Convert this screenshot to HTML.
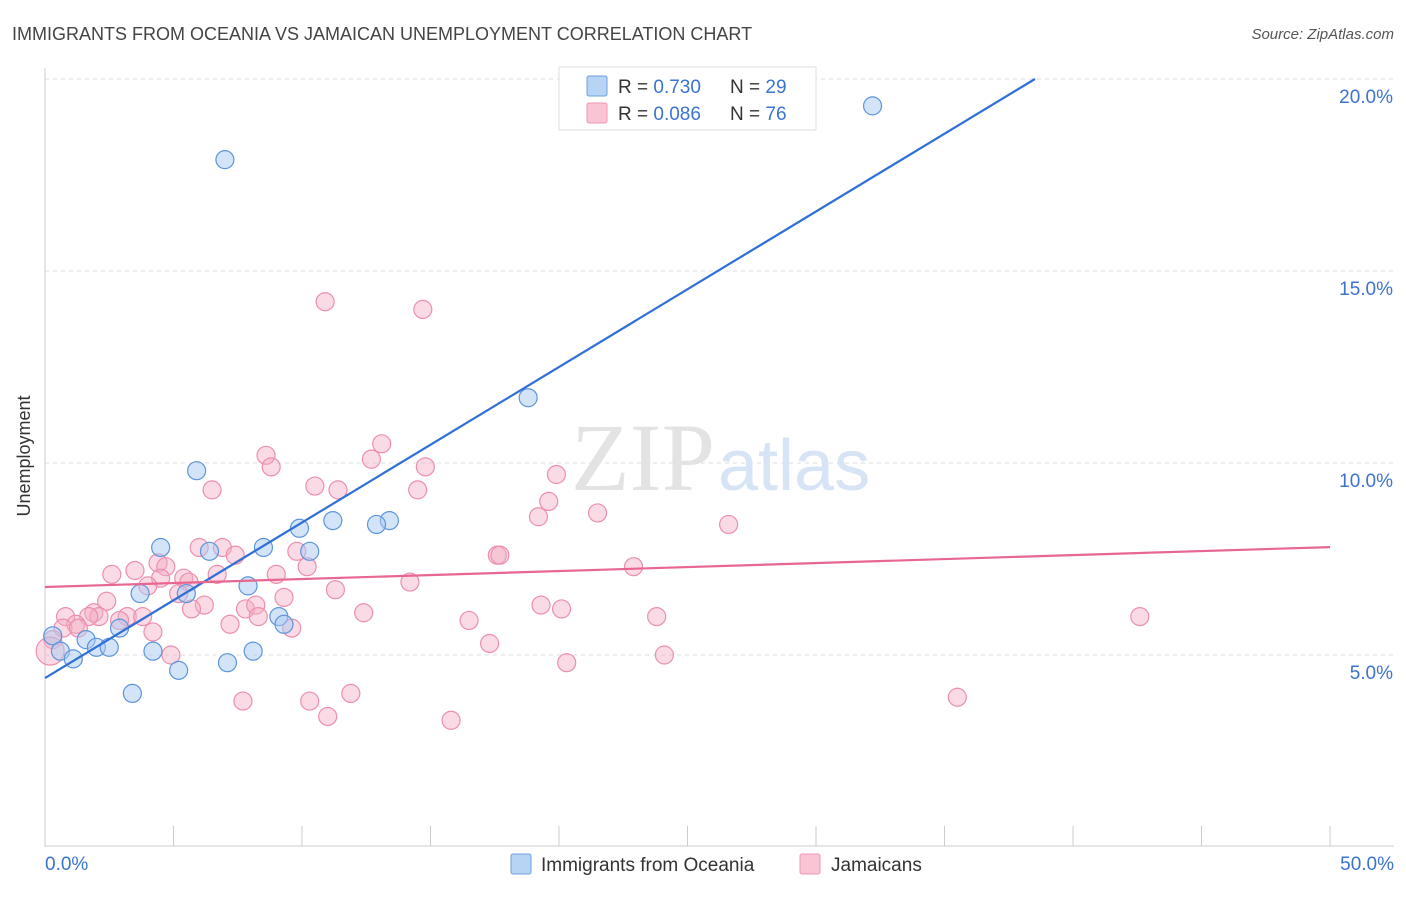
<!DOCTYPE html>
<html><head><meta charset="utf-8"><style>
body{margin:0;background:#fff;font-family:"Liberation Sans",sans-serif}
</style></head><body>
<svg width="1406" height="892" font-family="Liberation Sans, sans-serif">
<text x="12" y="40" font-size="18" fill="#444">IMMIGRANTS FROM OCEANIA VS JAMAICAN UNEMPLOYMENT CORRELATION CHART</text>
<text x="1394" y="39" font-size="15" fill="#555" font-style="italic" text-anchor="end">Source: ZipAtlas.com</text>
<g id="grid"></g>
<text x="715" y="490" font-size="96" fill="#e3e3e3" text-anchor="end" font-family="Liberation Serif, serif">ZIP</text>
<text x="718" y="490" font-size="72" fill="#d6e4f5">atlas</text>
<text x="30" y="456" font-size="18" fill="#333" text-anchor="middle" transform="rotate(-90 30 456)">Unemployment</text>
<g id="marks"></g>
<g>
<rect x="559" y="67" width="257" height="63" fill="#fff" stroke="#ddd"/>
<rect x="587" y="76" width="20" height="20" fill="#b8d4f5" stroke="#6a9fe0" rx="2"/>
<rect x="587" y="103" width="20" height="20" fill="#f9c4d3" stroke="#ee98b3" rx="2"/>
<text x="618" y="93" font-size="19" fill="#333">R = <tspan fill="#3b73d1">0.730</tspan></text>
<text x="730" y="93" font-size="19" fill="#333">N = <tspan fill="#3b73d1">29</tspan></text>
<text x="618" y="120" font-size="19" fill="#333">R = <tspan fill="#3b73d1">0.086</tspan></text>
<text x="730" y="120" font-size="19" fill="#333">N = <tspan fill="#3b73d1">76</tspan></text>
</g>
<g>
<rect x="511" y="854" width="20" height="20" fill="#b8d4f5" stroke="#6a9fe0" rx="2"/>
<text x="541" y="871" font-size="19" fill="#333">Immigrants from Oceania</text>
<rect x="800" y="854" width="20" height="20" fill="#f9c4d3" stroke="#ee98b3" rx="2"/>
<text x="831" y="871" font-size="19" fill="#333">Jamaicans</text>
</g>
</svg>
<script>
const yTicks=[5,10,15,20];
const yTickLabels=["5.0%","10.0%","15.0%","20.0%"];
const xTickLabels=["0.0%","50.0%"];
const blueX=[7.0,32.2,18.8,5.9,11.2,13.4,12.9,9.9,4.5,6.4,8.5,10.3,7.9,3.7,5.5,9.1,9.3,2.9,1.6,0.3,0.6,2.0,2.5,4.2,1.1,7.1,8.1,5.2,3.4];
const blueY=[17.9,19.3,11.7,9.8,8.5,8.5,8.4,8.3,7.8,7.7,7.8,7.7,6.8,6.6,6.6,6.0,5.8,5.7,5.4,5.5,5.1,5.2,5.2,5.1,4.9,4.8,5.1,4.6,4.0];
const pinkX=[10.9,14.7,13.1,8.6,8.8,12.7,14.8,19.9,6.5,10.5,11.4,14.5,19.6,19.2,21.5,26.6,6.0,6.9,7.4,9.8,17.6,17.7,10.2,4.4,3.5,4.7,2.6,6.7,9.0,22.9,4.5,5.4,5.6,14.2,4.0,11.3,5.2,9.3,2.4,6.2,5.7,7.8,8.2,19.3,20.1,1.9,3.2,3.8,0.8,2.1,1.7,12.4,8.3,2.9,16.5,23.8,42.6,1.2,0.7,1.3,7.2,9.6,4.2,0.3,17.3,4.9,24.1,20.3,11.9,10.3,7.7,35.5,11.0,15.8,0.2];
const pinkY=[14.2,14.0,10.5,10.2,9.9,10.1,9.9,9.7,9.3,9.4,9.3,9.3,9.0,8.6,8.7,8.4,7.8,7.8,7.6,7.7,7.6,7.6,7.3,7.4,7.2,7.3,7.1,7.1,7.1,7.3,7.0,7.0,6.9,6.9,6.8,6.7,6.6,6.5,6.4,6.3,6.2,6.2,6.3,6.3,6.2,6.1,6.0,6.0,6.0,6.0,6.0,6.1,6.0,5.9,5.9,6.0,6.0,5.8,5.7,5.7,5.8,5.7,5.6,5.4,5.3,5.0,5.0,4.8,4.0,3.8,3.8,3.9,3.4,3.3,5.1];
const blueLine=[4.4,0.405];
const pinkLine=[6.77,0.0208];
const NS="http://www.w3.org/2000/svg";
const X=v=>45+v*25.7, Y=v=>847-v*38.4;
const grid=document.getElementById('grid'), marks=document.getElementById('marks');
function mk(tag,at,parent){const e=document.createElementNS(NS,tag);for(const k in at)e.setAttribute(k,at[k]);parent.appendChild(e);return e;}
mk('line',{x1:45,y1:68,x2:45,y2:847,stroke:'#ccc'},grid);
mk('line',{x1:45,y1:846,x2:1394,y2:846,stroke:'#ccc'},grid);
yTicks.forEach((t,i)=>{
 const l=mk('line',{x1:45,y1:Y(t),x2:1394,y2:Y(t),stroke:'#ddd','stroke-dasharray':'4 4'},grid);
 
 
 const tx=mk('text',{x:1393,y:Y(t)+24,'font-size':19,fill:'#3b73d1','text-anchor':'end'},grid);
 tx.textContent=yTickLabels[i];
 
 
});
for(let i=0;i<=10;i++){const l=mk('line',{x1:X(i*5),y1:826,x2:X(i*5),y2:846,stroke:'#ccc'},grid);
 
 }
[[0,'start',45],[50,'end',1394]].forEach((d,i)=>{const t=mk('text',{x:d[2],y:870,'font-size':19,fill:'#3b73d1','text-anchor':d[1]},grid);t.textContent=xTickLabels[i];
 
 });
pinkX.forEach((x,i)=>{const c=mk('circle',{cx:X(x),cy:Y(pinkY[i]),r:i==pinkX.length-1?14:9,fill:'#f5aec4','fill-opacity':0.45,stroke:'#ec8fae','stroke-width':1.2},marks);
 
 });
blueX.forEach((x,i)=>{const c=mk('circle',{cx:X(x),cy:Y(blueY[i]),r:9,fill:'#a9c9f1','fill-opacity':0.5,stroke:'#5d95dc','stroke-width':1.2},marks);
 
 });
const xEndB=(20-blueLine[0])/blueLine[1];
const lb=mk('line',{x1:X(0),y1:Y(blueLine[0]),x2:X(xEndB),y2:Y(blueLine[0]+blueLine[1]*xEndB),stroke:'#2f6fd6','stroke-width':2.2},marks);


const lp=mk('line',{x1:X(0),y1:Y(pinkLine[0]),x2:X(50),y2:Y(pinkLine[0]+pinkLine[1]*50),stroke:'#e8668f','stroke-width':2.2},marks);


</script>
</body></html>
